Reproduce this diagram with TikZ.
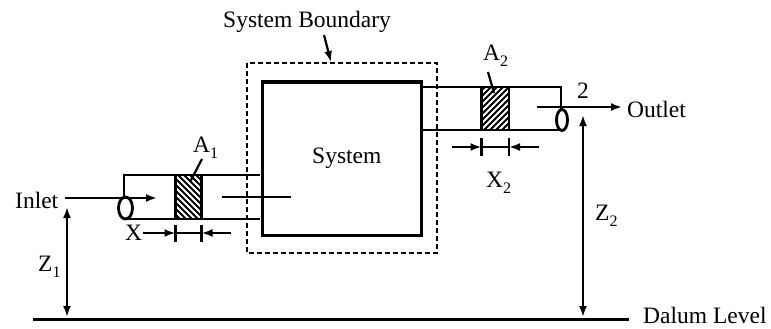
\documentclass[tikz,border=0pt]{standalone}
\usepackage{fontspec}
\setmainfont{Liberation Serif}
\usetikzlibrary{arrows.meta}
\newcommand\lblsub[2]{#1\raisebox{-0.26em}{\fontsize{16}{16}\selectfont #2}}
\begin{document}
\begin{tikzpicture}[x=1pt,y=-1pt,
  txt/.style={inner sep=0pt, anchor=base west, font=\fontsize{23.5}{26}\selectfont},
  pipe/.style={line width=2.8pt},
  sysbox/.style={line width=3pt},
  bnd/.style={line width=2.4pt, dash pattern=on 5pt off 3pt},
  arr/.style={line width=2.2pt, -{Latex[length=11pt,width=8pt]}},
  darr/.style={line width=2.2pt, {Latex[length=11pt,width=8pt]}-{Latex[length=11pt,width=8pt]}},
  lead/.style={line width=2.2pt},
  hatchl/.style={line width=1.8pt}]
\useasboundingbox (0,0) rectangle (771,329);

% hatched sections
\begin{scope}
  \clip (175.5,175) rectangle (201.5,219);
  \foreach \i in {-50,-44,...,210} \draw[hatchl] (\i,175) -- ++(44,44);
\end{scope}
\draw[pipe] (175.5,175) rectangle (201.5,219);
\begin{scope}
  \clip (481.5,87) rectangle (509,130);
  \foreach \i in {430,436,...,530} \draw[hatchl] (\i,130) -- ++(44,-44);
\end{scope}
\draw[pipe] (481.5,87) rectangle (509,130);

% inlet pipe
\draw[pipe] (260,175) -- (124,175) -- (124,197);
\draw[pipe] (125.5,208) ellipse (7 and 11);
\draw[pipe] (125.5,219) -- (260,219);
% outlet pipe
\draw[pipe] (421,87) -- (561,87) -- (561,110);
\draw[pipe] (562,120) ellipse (5.5 and 10.5);
\draw[pipe] (421,130) -- (562,130);

% system and boundary
\draw[sysbox] (262,82) rectangle (421,235);
\draw[bnd] (247,63) rectangle (437,253);
\draw[lead] (222,197) -- (291,197);

% datum
\draw[line width=3pt] (33,319) -- (629,319);

% coordinates
\coordinate (inS) at (65,198);   \coordinate (inE) at (157,198);
\coordinate (outS) at (537,107); \coordinate (outE) at (622,107);
\coordinate (z1t) at (67,207);   \coordinate (z1b) at (67,317);
\coordinate (z2t) at (583,115);  \coordinate (z2b) at (583,317);
\coordinate (sbS) at (324,35);   \coordinate (sbE) at (331,62);
\coordinate (a1S) at (202,159);  \coordinate (a1E) at (190,182);
\coordinate (a2S) at (488,72);   \coordinate (a2E) at (494,93);
\coordinate (x1l) at (143,233);  \coordinate (x1a) at (175.5,233);
\coordinate (x1b) at (201.5,233);\coordinate (x1r) at (231,233);
\coordinate (x2l) at (452,147);  \coordinate (x2a) at (481.5,147);
\coordinate (x2b) at (509,147);  \coordinate (x2r) at (539,147);

\draw[arr] (inS) -- (inE);
\draw[arr] (outS) -- (outE);
\draw[darr] (z1t) -- (z1b);
\draw[darr] (z2t) -- (z2b);
\draw[arr] (sbS) -- (sbE);
\draw[lead] (a1S) -- (a1E);
\draw[lead] (a2S) -- (a2E);

% dimension X1
\draw[arr] (x1l) -- (x1a);
\draw[arr] (x1r) -- (x1b);
\draw[lead] (x1a) -- (x1b);
\draw[lead] ([yshift=-9pt]x1a) -- ([yshift=8pt]x1a);
\draw[lead] ([yshift=-9pt]x1b) -- ([yshift=8pt]x1b);
% dimension X2
\draw[arr] (x2l) -- (x2a);
\draw[arr] (x2r) -- (x2b);
\draw[lead] (x2a) -- (x2b);
\draw[lead] ([yshift=-9pt]x2a) -- ([yshift=9pt]x2a);
\draw[lead] ([yshift=-9pt]x2b) -- ([yshift=9pt]x2b);

% texts
\node[txt] (inlet) at (15,208) {Inlet};
\node[txt] (outlet) at (627,117) {Outlet};
\node[txt] (datum) at (643,323) {Dalum Level};
\node[txt] (sb) at (223,28) {System Boundary};
\node[txt] (sys) at (312,163) {System};
\node[txt] (xl) at (125,240) {X};
\node[txt] (x2) at (486,187) {\lblsub{X}{2}};
\node[txt] (z1) at (38,271) {\lblsub{Z}{1}};
\node[txt] (z2) at (595,220) {\lblsub{Z}{2}};
\node[txt] (a1) at (193,152) {\lblsub{A}{1}};
\node[txt] (a2) at (483,60) {\lblsub{A}{2}};
\node[txt] (two) at (577,98) {2};
\end{tikzpicture}
\end{document}
